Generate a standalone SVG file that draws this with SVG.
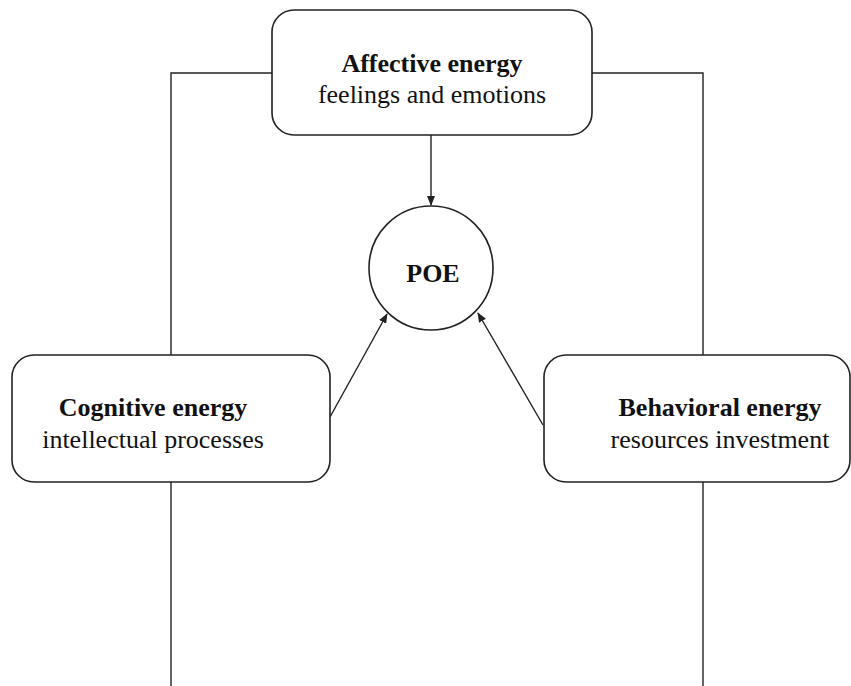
<svg xmlns="http://www.w3.org/2000/svg" width="851" height="686" viewBox="0 0 851 686">
<defs>
<marker id="arr" markerWidth="10" markerHeight="8" refX="9" refY="4" orient="auto" markerUnits="userSpaceOnUse">
<path d="M0,0 L10,4 L0,8 Z" fill="#222"/>
</marker>
<style>
.box{fill:#fff;stroke:#222;stroke-width:1.6}
.ln{fill:none;stroke:#222;stroke-width:1.4}
.b{font-family:"Liberation Serif","Times New Roman",serif;font-weight:bold;font-size:26px;fill:#111;text-anchor:middle}
.r{font-family:"Liberation Serif","Times New Roman",serif;font-size:26px;fill:#111;text-anchor:middle}
</style>
</defs>
<rect width="851" height="686" fill="#fff"/>
<g id="connectors">
<path class="ln" d="M272,73 H171 V355"/>
<path class="ln" d="M171,482 V686"/>
<path class="ln" d="M592,73 H703 V355"/>
<path class="ln" d="M703,482 V686"/>
<line class="ln" x1="431" y1="135" x2="431" y2="205" marker-end="url(#arr)"/>
<line class="ln" x1="330" y1="417" x2="387" y2="314" marker-end="url(#arr)"/>
<line class="ln" x1="543" y1="425" x2="478" y2="313" marker-end="url(#arr)"/>
</g>
<g id="affective">
<rect class="box" x="272" y="10" width="320" height="125" rx="22"/>
<text class="b" x="432" y="72">Affective energy</text>
<text class="r" x="432" y="103">feelings and emotions</text>
</g>
<g id="poe">
<circle class="box" cx="431" cy="268" r="62"/>
<text class="b" x="433" y="282">POE</text>
</g>
<g id="cognitive">
<rect class="box" x="12" y="355" width="318" height="127" rx="22"/>
<text class="b" x="153" y="416">Cognitive energy</text>
<text class="r" x="153" y="448">intellectual processes</text>
</g>
<g id="behavioral">
<rect class="box" x="544" y="355" width="306" height="127" rx="22"/>
<text class="b" x="720" y="416">Behavioral energy</text>
<text class="r" x="720" y="448">resources investment</text>
</g>
</svg>
